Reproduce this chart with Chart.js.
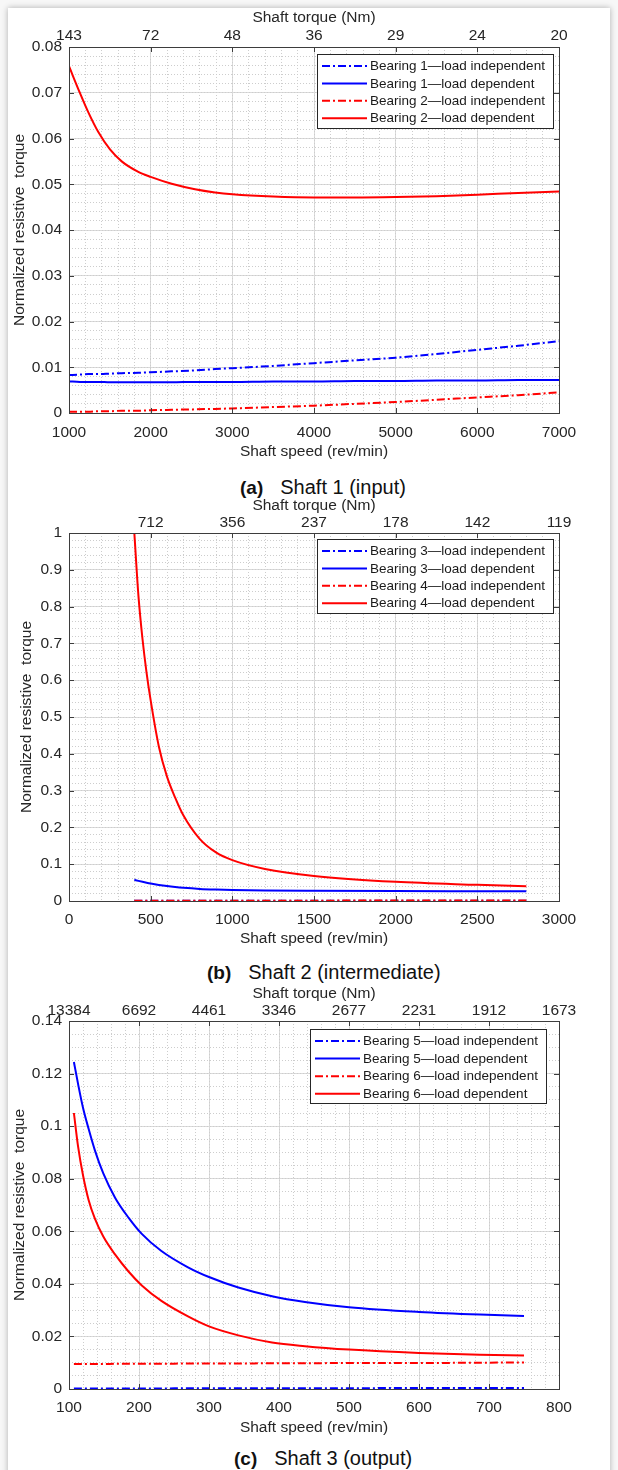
<!DOCTYPE html>
<html>
<head>
<meta charset="utf-8">
<script src="https://cdn.jsdelivr.net/npm/chart.js@4.4.1/dist/chart.umd.min.js"></script>
<style>
html,body{margin:0;padding:0;background:#f7f7f7;}
body{width:618px;height:1470px;position:relative;overflow:hidden;font-family:"Liberation Sans",Arial,sans-serif;}
#card{position:absolute;left:8px;top:8px;width:602px;height:1490px;background:#fff;box-shadow:0 0 6px rgba(0,0,0,0.30);}
canvas{position:absolute;left:0;}
.cap{position:absolute;font-size:20px;line-height:22px;color:#111;white-space:nowrap;}
.cap b{font-weight:bold;font-size:19px;}
.cap span{margin-left:17px;}
</style>
</head>
<body>
<div id="card"></div>
<canvas id="cA" width="618" height="470" style="top:0px;width:618px;height:470px;"></canvas>
<div class="cap" style="left:240px;top:476px;"><b>(a)</b><span>Shaft 1 (input)</span></div>
<canvas id="cB" width="618" height="470" style="top:490px;width:618px;height:470px;"></canvas>
<div class="cap" style="left:207px;top:961px;"><b>(b)</b><span>Shaft 2 (intermediate)</span></div>
<canvas id="cC" width="618" height="462" style="top:978px;width:618px;height:462px;"></canvas>
<div class="cap" style="left:234px;top:1447px;"><b>(c)</b><span>Shaft 3 (output)</span></div>
<script>
// ================= (a) Shaft 1 (input) =================
const speedA = [1000, 1135, 1237, 1359, 1502, 1645, 1849, 2000, 2257, 2543, 2788, 3000, 3500, 4000, 4500, 5000, 5500, 6000, 6500, 7000];
const b1IndepA = [0.0083, 0.0084, 0.0085, 0.0085, 0.0086, 0.0087, 0.0088, 0.0089, 0.0091, 0.0093, 0.0096, 0.0098, 0.0103, 0.0109, 0.0115, 0.0121, 0.0129, 0.0138, 0.0147, 0.0157];
const b1DepA   = [0.0069, 0.0068, 0.0068, 0.0068, 0.0067, 0.0067, 0.0067, 0.0067, 0.0067, 0.0068, 0.0068, 0.0068, 0.0069, 0.0069, 0.0070, 0.0070, 0.0071, 0.0071, 0.0072, 0.0072];
const b2IndepA = [0.0003, 0.0003, 0.0003, 0.0004, 0.0004, 0.0005, 0.0005, 0.0006, 0.0007, 0.0008, 0.0009, 0.0010, 0.0013, 0.0016, 0.0020, 0.0024, 0.0029, 0.0034, 0.0039, 0.0045];
const b2DepA   = [0.0758, 0.0699, 0.0657, 0.0614, 0.0576, 0.0550, 0.0527, 0.0516, 0.0501, 0.0489, 0.0482, 0.0478, 0.0473, 0.0471, 0.0471, 0.0472, 0.0474, 0.0477, 0.0481, 0.0484];
const legendA = ['Bearing 1\u2014load independent', 'Bearing 1\u2014load dependent', 'Bearing 2\u2014load independent', 'Bearing 2\u2014load dependent'];
const xTicksA = [1000, 2000, 3000, 4000, 5000, 6000, 7000];
const xTickLabelsA = ['1000', '2000', '3000', '4000', '5000', '6000', '7000'];
const torqueTicksA = [1000, 2000, 3000, 4000, 5000, 6000, 7000];
const torqueLabelsA = ['143', '72', '48', '36', '29', '24', '20'];
const yTicksA = [0, 0.01, 0.02, 0.03, 0.04, 0.05, 0.06, 0.07, 0.08];
const yTickLabelsA = ['0', '0.01', '0.02', '0.03', '0.04', '0.05', '0.06', '0.07', '0.08'];

// ================= (b) Shaft 2 (intermediate) =================
const speedB = [400, 425, 450, 475, 500, 550, 600, 650, 700, 800, 900, 1000, 1200, 1500, 2000, 2500, 2800];
const b3IndepB = [0.0004, 0.0004, 0.0004, 0.0004, 0.0004, 0.0004, 0.0004, 0.0004, 0.0005, 0.0005, 0.0005, 0.0005, 0.0005, 0.0006, 0.0006, 0.0007, 0.0007];
const b3DepB   = [0.0575, 0.0547, 0.0521, 0.0497, 0.0475, 0.0437, 0.0405, 0.0379, 0.0358, 0.0328, 0.0311, 0.0300, 0.0287, 0.0278, 0.0270, 0.0265, 0.0262];
const b4IndepB = [0.0008, 0.0008, 0.0008, 0.0008, 0.0008, 0.0008, 0.0008, 0.0009, 0.0009, 0.0009, 0.0009, 0.0009, 0.0010, 0.0010, 0.0011, 0.0011, 0.0012];
const b4DepB   = [1.0, 0.830, 0.712, 0.620, 0.545, 0.420, 0.338, 0.281, 0.233, 0.169, 0.132, 0.111, 0.087, 0.068, 0.052, 0.044, 0.040];
const legendB = ['Bearing 3\u2014load independent', 'Bearing 3\u2014load dependent', 'Bearing 4\u2014load independent', 'Bearing 4\u2014load dependent'];
const xTicksB = [0, 500, 1000, 1500, 2000, 2500, 3000];
const xTickLabelsB = ['0', '500', '1000', '1500', '2000', '2500', '3000'];
const torqueTicksB = [500, 1000, 1500, 2000, 2500, 3000];
const torqueLabelsB = ['712', '356', '237', '178', '142', '119'];
const yTicksB = [0, 0.1, 0.2, 0.3, 0.4, 0.5, 0.6, 0.7, 0.8, 0.9, 1];
const yTickLabelsB = ['0', '0.1', '0.2', '0.3', '0.4', '0.5', '0.6', '0.7', '0.8', '0.9', '1'];

// ================= (c) Shaft 3 (output) =================
const speedC = [107, 113, 120, 128, 137, 149, 166, 185, 204, 232, 270, 300, 342, 390, 437, 500, 600, 687, 750];
const b5IndepC = [0.0002, 0.0002, 0.0002, 0.0002, 0.0002, 0.0002, 0.0002, 0.0002, 0.0002, 0.0002, 0.0003, 0.0003, 0.0003, 0.0003, 0.0003, 0.0003, 0.0004, 0.0004, 0.0004];
const b5DepC   = [0.1244, 0.1160, 0.1070, 0.0990, 0.0908, 0.0820, 0.0727, 0.0652, 0.0590, 0.0525, 0.0463, 0.0426, 0.0386, 0.0353, 0.0331, 0.0311, 0.0293, 0.0283, 0.0278];
const b6IndepC = [0.0095, 0.0095, 0.0095, 0.0095, 0.0095, 0.0095, 0.0096, 0.0096, 0.0096, 0.0096, 0.0097, 0.0097, 0.0097, 0.0098, 0.0098, 0.0099, 0.0099, 0.0100, 0.0101];
const b6DepC   = [0.1050, 0.0922, 0.0813, 0.0719, 0.0648, 0.0580, 0.0511, 0.0447, 0.0394, 0.0335, 0.0276, 0.0238, 0.0204, 0.0177, 0.0163, 0.0150, 0.0137, 0.0130, 0.0127];
const legendC = ['Bearing 5\u2014load independent', 'Bearing 5\u2014load dependent', 'Bearing 6\u2014load independent', 'Bearing 6\u2014load dependent'];
const xTicksC = [100, 200, 300, 400, 500, 600, 700, 800];
const xTickLabelsC = ['100', '200', '300', '400', '500', '600', '700', '800'];
const torqueTicksC = [100, 200, 300, 400, 500, 600, 700, 800];
const torqueLabelsC = ['13384', '6692', '4461', '3346', '2677', '2231', '1912', '1673'];
const yTicksC = [0, 0.02, 0.04, 0.06, 0.08, 0.1, 0.12, 0.14];
const yTickLabelsC = ['0', '0.02', '0.04', '0.06', '0.08', '0.1', '0.12', '0.14'];

// ================= rendering =================
const FONT = '"Liberation Sans", Arial, Helvetica, sans-serif';
const TXT = '#262626';
Chart.defaults.font.family = FONT;

function minorTicks(min, max, step) {
  const out = [];
  const n = Math.round((max - min) / step);
  for (let k = 0; k <= n; k++) out.push({ value: +(min + k * step).toFixed(6) });
  return out;
}

const framePlugin = {
  id: 'frame',
  afterDraw(chart) {
    const { ctx, chartArea: a, scales } = chart;
    const L = 5;
    ctx.save();
    ctx.strokeStyle = '#3d3d3d';
    ctx.lineWidth = 1;
    ctx.beginPath();
    scales.x.ticks.forEach(t => {
      const p = Math.round(scales.x.getPixelForValue(t.value)) + 0.5;
      ctx.moveTo(p, a.bottom); ctx.lineTo(p, a.bottom - L);
    });
    scales.x2.ticks.forEach(t => {
      const p = Math.round(scales.x2.getPixelForValue(t.value)) + 0.5;
      ctx.moveTo(p, a.top); ctx.lineTo(p, a.top + L);
    });
    scales.y.ticks.forEach(t => {
      const p = Math.round(scales.y.getPixelForValue(t.value)) + 0.5;
      ctx.moveTo(a.left, p); ctx.lineTo(a.left + L, p);
      ctx.moveTo(a.right, p); ctx.lineTo(a.right - L, p);
    });
    ctx.stroke();
    ctx.strokeRect(Math.round(a.left) + 0.5, Math.round(a.top) + 0.5, Math.round(a.width), Math.round(a.height));
    ctx.restore();
  }
};

const boxLegend = {
  id: 'boxLegend',
  afterDraw(chart, args, o) {
    const { ctx, chartArea: a } = chart;
    ctx.save();
    ctx.font = o.fontSize + 'px ' + FONT;
    const sets = chart.data.datasets;
    const tw = Math.max(...sets.map(d => ctx.measureText(d.label).width));
    const w = Math.round(o.padL + o.sample + o.gap + tw + o.padR);
    const h = o.height;
    const x0 = Math.round(a.right - o.right - w);
    const y0 = Math.round(a.top + o.top);
    ctx.fillStyle = '#ffffff';
    ctx.fillRect(x0, y0, w, h);
    ctx.strokeStyle = '#262626';
    ctx.lineWidth = 1;
    ctx.strokeRect(x0 + 0.5, y0 + 0.5, w, h);
    sets.forEach((d, i) => {
      const cy = y0 + o.first + i * o.rowH;
      ctx.beginPath();
      ctx.strokeStyle = d.borderColor;
      ctx.lineWidth = 2;
      ctx.setLineDash(d.borderDash || []);
      ctx.moveTo(x0 + o.padL, cy);
      ctx.lineTo(x0 + o.padL + o.sample, cy);
      ctx.stroke();
      ctx.setLineDash([]);
      ctx.fillStyle = '#1a1a1a';
      ctx.textBaseline = 'middle';
      ctx.textAlign = 'left';
      ctx.fillText(d.label, x0 + o.padL + o.sample + o.gap, cy + 0.5);
    });
    ctx.restore();
  }
};

const DASHDOT = [8, 3, 2, 3];

function makeChart(id, c) {
  const colors = ['#0000ff', '#0000ff', '#ff0000', '#ff0000'];
  const dashes = [DASHDOT, [], DASHDOT, []];
  const datasets = c.series.map((vals, i) => ({
    label: c.labels[i],
    data: c.speeds.map((x, k) => ({ x: x, y: vals[k] })),
    borderColor: colors[i],
    backgroundColor: colors[i],
    borderWidth: 2,
    borderDash: dashes[i],
    pointRadius: 0,
    pointHoverRadius: 0,
    fill: false,
    cubicInterpolationMode: 'monotone',
    order: c.series.length - i
  }));
  const tickFont = { family: FONT, size: 15.5 };
  return new Chart(document.getElementById(id), {
    type: 'line',
    data: { datasets: datasets },
    options: {
      responsive: false,
      animation: false,
      devicePixelRatio: 1,
      layout: { padding: { left: 0, top: 0, right: 59, bottom: 0 } },
      plugins: {
        legend: { display: false },
        tooltip: { enabled: false },
        boxLegend: Object.assign({ fontSize: 13.5, padL: 5, sample: 45, gap: 3, padR: 8, height: 74, first: 12, rowH: 17.4 }, c.legend)
      },
      scales: {
        x: {
          type: 'linear', position: 'bottom', min: c.xMin, max: c.xMax,
          afterBuildTicks: s => { s.ticks = c.xTicks.map(v => ({ value: v })); },
          afterFit: s => { s.height = c.bottomH; },
          ticks: { autoSkip: false, maxRotation: 0, padding: c.xTickPad, color: TXT, font: tickFont,
                   callback: (v, i) => c.xTickLabels[i] },
          grid: { color: '#dadada', lineWidth: 1, drawTicks: false },
          border: { display: false },
          title: { display: true, text: 'Shaft speed (rev/min)', color: TXT, font: tickFont,
                   padding: { top: 0, bottom: c.xTitlePad } }
        },
        xm: {
          type: 'linear', position: 'bottom', min: c.xMin, max: c.xMax,
          afterBuildTicks: s => { s.ticks = minorTicks(c.xMin, c.xMax, c.xMinor); },
          afterFit: s => { s.height = 0; },
          ticks: { display: false },
          grid: { color: '#cdcdcd', lineWidth: 1, drawTicks: false },
          border: { display: false, dash: [1, 2] }
        },
        x2: {
          type: 'linear', position: 'top', min: c.xMin, max: c.xMax,
          afterBuildTicks: s => { s.ticks = c.torqueTicks.map(v => ({ value: v })); },
          afterFit: s => { s.height = c.topH; },
          ticks: { autoSkip: false, maxRotation: 0, padding: c.topTickPad, color: TXT, font: tickFont,
                   callback: (v, i) => c.torqueLabels[i] },
          grid: { display: false, drawTicks: false },
          border: { display: false },
          title: { display: true, text: 'Shaft torque (Nm)', color: TXT, font: tickFont,
                   padding: { top: c.topTitlePad, bottom: 0 } }
        },
        y: {
          type: 'linear', position: 'left', min: c.yMin, max: c.yMax,
          afterBuildTicks: s => { s.ticks = c.yTicks.map(v => ({ value: v })); },
          afterFit: s => { s.width = 69; },
          ticks: { autoSkip: false, padding: 7, color: TXT, font: tickFont,
                   callback: (v, i) => c.yTickLabels[i] },
          grid: { color: '#dadada', lineWidth: 1, drawTicks: false },
          border: { display: false },
          title: { display: true, text: 'Normalized resistive  torque', color: TXT, font: tickFont,
                   padding: { top: c.yTitlePad, bottom: 0 } }
        },
        ym: {
          type: 'linear', position: 'left', min: c.yMin, max: c.yMax,
          afterBuildTicks: s => { s.ticks = minorTicks(c.yMin, c.yMax, c.yMinor); },
          afterFit: s => { s.width = 0; },
          ticks: { display: false },
          grid: { color: '#cdcdcd', lineWidth: 1, drawTicks: false },
          border: { display: false, dash: [1, 2] }
        }
      }
    },
    plugins: [framePlugin, boxLegend]
  });
}

makeChart('cA', {
  speeds: speedA, series: [b1IndepA, b1DepA, b2IndepA, b2DepA], labels: legendA,
  xMin: 1000, xMax: 7000, xMinor: 200, yMin: 0, yMax: 0.08, yMinor: 0.002,
  xTicks: xTicksA, xTickLabels: xTickLabelsA, torqueTicks: torqueTicksA, torqueLabels: torqueLabelsA,
  yTicks: yTicksA, yTickLabels: yTickLabelsA,
  topH: 47, bottomH: 57, xTickPad: 10, xTitlePad: 9, topTickPad: 2, topTitlePad: 8, yTitlePad: 10,
  legend: { right: 6, top: 7 }
});

makeChart('cB', {
  speeds: speedB, series: [b3IndepB, b3DepB, b4IndepB, b4DepB], labels: legendB,
  xMin: 0, xMax: 3000, xMinor: 100, yMin: 0, yMax: 1, yMinor: 0.02,
  xTicks: xTicksB, xTickLabels: xTickLabelsB, torqueTicks: torqueTicksB, torqueLabels: torqueLabelsB,
  yTicks: yTicksB, yTickLabels: yTickLabelsB,
  topH: 43, bottomH: 59, xTickPad: 9, xTitlePad: 12, topTickPad: 1, topTitlePad: 6, yTitlePad: 17,
  legend: { right: 6, top: 6 }
});

makeChart('cC', {
  speeds: speedC, series: [b5IndepC, b5DepC, b6IndepC, b6DepC], labels: legendC,
  xMin: 100, xMax: 800, xMinor: 20, yMin: 0, yMax: 0.14, yMinor: 0.005,
  xTicks: xTicksC, xTickLabels: xTickLabelsC, torqueTicks: torqueTicksC, torqueLabels: torqueLabelsC,
  yTicks: yTicksC, yTickLabels: yTickLabelsC,
  topH: 43, bottomH: 51, xTickPad: 9, xTitlePad: 3, topTickPad: 1, topTitlePad: 6, yTitlePad: 10,
  legend: { right: 13, top: 8, rowH: 17.6 }
});
</script>
</body>
</html>
